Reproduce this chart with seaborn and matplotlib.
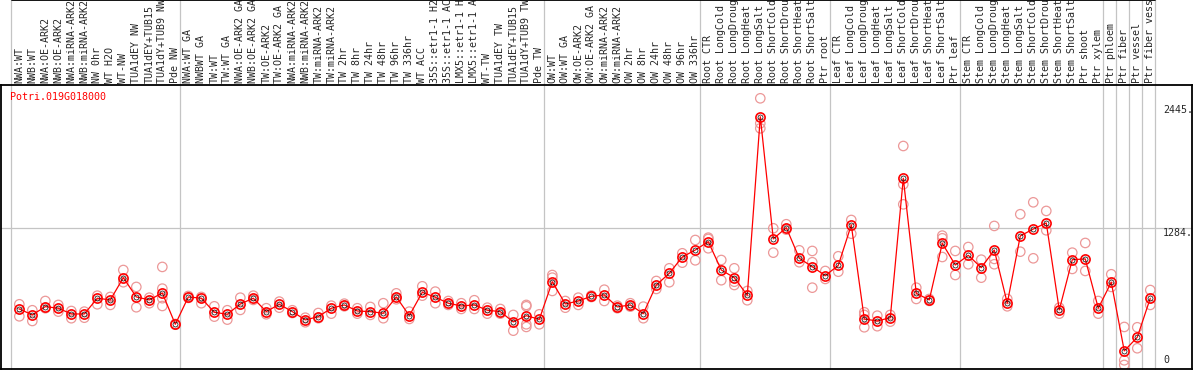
import matplotlib
matplotlib.use("Agg")
import matplotlib.pyplot as plt
from matplotlib.lines import Line2D
from matplotlib.transforms import blended_transform_factory
import seaborn as sns
from pandas import DataFrame

gene = "Potri.019G018000"

# sample names as far as they are readable in the header
samples = [
    "NWA:WT", "NWB:WT", "NWA:OE-ARK2", "NWB:OE-ARK2", "NWA:miRNA-ARK2",
    "NWB:miRNA-ARK2", "NW 0hr", "WT H2O", "WT-NW", "TUA1dEY NW",
    "TUA1dEY+TUB15", "TUA1dY+TUB9 NW", "Pde NW",
    "NWA:WT GA", "NWBWT GA", "TW:WT", "TW:WT GA", "NWA:OE-ARK2 GA",
    "NWB:OE-ARK2 GA", "TW:OE-ARK2", "TW:OE-ARK2 GA", "NWA:miRNA-ARK2",
    "NWB:miRNA-ARK2", "TW:miRNA-ARK2", "TW:miRNA-ARK2", "TW 2hr", "TW 8hr",
    "TW 24hr", "TW 48hr", "TW 96hr", "TW 336hr", "WT ACC",
    "35S::etr1-1 H2", "35S::etr1-1 AC", "LMX5::etr1-1 H",
    "LMX5::etr1-1 A", "WT-TW", "TUA1dEY TW", "TUA1dEY+TUB15",
    "TUA1dY+TUB9 TW", "Pde TW",
    "OW:WT", "OW:WT GA", "OW:OE-ARK2", "OW:OE-ARK2 GA", "OW:miRNA-ARK2",
    "OW:miRNA-ARK2", "OW 2hr", "OW 8hr", "OW 24hr", "OW 48hr", "OW 96hr",
    "OW 336hr",
    "Root CTR", "Root LongCold", "Root LongDroug", "Root LongHeat",
    "Root LongSalt", "Root ShortCold", "Root ShortDrou", "Root ShortHeat",
    "Root ShortSalt", "Ptr root",
    "Leaf CTR", "Leaf LongCold", "Leaf LongDroug", "Leaf LongHeat",
    "Leaf LongSalt", "Leaf ShortCold", "Leaf ShortDrou", "Leaf ShortHeat",
    "Leaf ShortSalt", "Ptr leaf",
    "Stem CTR", "Stem LongCold", "Stem LongDroug", "Stem LongHeat",
    "Stem LongSalt", "Stem ShortCold", "Stem ShortDrou", "Stem ShortHeat",
    "Stem ShortSalt", "Ptr shoot", "Ptr xylem",
    "Ptr phloem", "Ptr fiber", "Ptr vessel", "Ptr fiber vess",
]

means = [
    526, 470, 548, 533, 479, 479, 627, 611, 820, 639, 611, 676, 382,
    639, 627, 495, 476, 573, 627, 501, 570, 501, 423, 454, 533, 564, 507,
    501, 486, 639, 463, 683, 636, 580, 554, 564, 514, 501, 404, 463, 429,
    782, 573, 601, 645, 658, 545, 564, 482, 751, 861, 1014, 1080,
    1158, 892, 820, 655, 2332, 1184, 1290, 1002, 923, 839,
    936, 1315, 432, 413, 444, 1754, 673, 611, 1143, 939,
    1030, 914, 1080, 580, 1212, 1277, 1334, 517, 989, 996, 533,
    777, 132, 260, 627,
]

replicates = [
    [570, 457], [514, 413], [601, 533], [564, 501], [507, 439], [501, 444],
    [651, 570], [639, 564], [892, 777], [733, 542], [632, 580],
    [921, 717, 627, 554], [385, 378],
    [648, 630], [639, 580], [551, 454], [514, 426], [632, 517], [651, 611],
    [533, 476], [595, 538], [514, 488], [444, 401], [488, 439], [557, 482],
    [576, 551], [533, 482], [545, 470], [580, 439], [673, 617], [501, 432],
    [739, 651], [689, 580], [601, 564], [580, 526], [608, 526], [538, 482],
    [526, 482], [470, 322], [564, 551, 382, 357], [476, 382],
    [845, 820, 695], [601, 538], [632, 564], [652, 638], [707, 601],
    [557, 533], [580, 548], [548, 439], [789, 714], [908, 777], [1049, 961],
    [1174, 983],
    [1196, 1184, 1096], [986, 796], [908, 782, 751], [695, 608],
    [2505, 2270, 2223], [1284, 1055], [1322, 1271], [1077, 965],
    [1071, 965, 726], [883, 808],
    [1021, 876], [1362, 1233], [495, 470, 354], [463, 364], [470, 407],
    [2057, 1697, 1509], [726, 620], [620, 602], [1215, 1190, 1014],
    [1071, 845],
    [1108, 946], [989, 820], [1306, 996, 946], [620, 551], [1416, 1064],
    [1528, 1002], [1447, 1265], [538, 482], [1055, 902], [1146, 883],
    [601, 482],
    [852, 733], [357, 44, 0], [354, 157], [704, 564],
]

# first sample index of each group (last entry closes the final group)
group_starts = [0, 13, 41, 53, 63, 73, 84, 85, 86, 87, 88]

value_ticks = [0, 1284, 2445]
value_labels = ["0", "1284.", "2445."]

mean_df = DataFrame({"pos": range(len(samples)), "value": means})
rep_df = DataFrame(
    [{"pos": i, "value": v} for i, reps in enumerate(replicates) for v in reps]
)

sns.set_style("white")
plt.rcParams["font.family"] = ["DejaVu Sans Mono"]

fig = plt.figure(figsize=(11.94, 3.70), dpi=100)
ax = fig.add_axes([1 / 1194, 1 - 369 / 370, 1191 / 1194, 284 / 370])

grid_c = "#c4c4c4"
ax.axhline(1284, color=grid_c, lw=0.9, zorder=0)
for g in group_starts:
    ax.axvline(g - 0.64, ymin=0, ymax=1.31, color=grid_c, lw=0.9,
               zorder=0, clip_on=False)

sns.scatterplot(data=rep_df, x="pos", y="value", ax=ax, marker="o",
                s=46, facecolor="none", edgecolor="#ec9898", linewidth=0.9,
                zorder=2, legend=False)
sns.lineplot(data=mean_df, x="pos", y="value", ax=ax, color="red", lw=0.9,
             zorder=3)
ax.plot(mean_df["pos"], mean_df["value"], ls="none", marker="o", ms=6.6,
        mfc="none", mec="red", mew=1.2, zorder=4)
ax.plot(mean_df["pos"], mean_df["value"], ls="none", marker="o", ms=3.6,
        mfc="none", mec="black", mew=0.5, zorder=5)

ax.set_xlim(-1.41, 90.21)
ax.set_ylim(-38, 2630)

ax.xaxis.tick_top()
ax.set_xticks(range(len(samples)))
ax.set_xticklabels(samples, rotation=90, fontsize=7.2)
ax.tick_params(axis="x", length=0, pad=1.2)
ax.set_yticks([])
ax.set_xlabel("")
ax.set_ylabel("")

for side in ax.spines.values():
    side.set_color("black")
    side.set_linewidth(1.3)

trans = blended_transform_factory(ax.transAxes, ax.transData)
for v, lab in zip(value_ticks, value_labels):
    ax.text(0.9757, v, lab, transform=trans, fontsize=7.2,
            va="bottom" if v == 0 else "top", ha="left")

ax.text(0.0076, 0.975, gene, transform=ax.transAxes, color="red",
        fontsize=7.2, va="top", ha="left")

fig.add_artist(Line2D([12 / 1194, 1155 / 1194], [0.999, 0.999],
                      color="black", lw=1.3))

fig.savefig("out.png", dpi=100)
